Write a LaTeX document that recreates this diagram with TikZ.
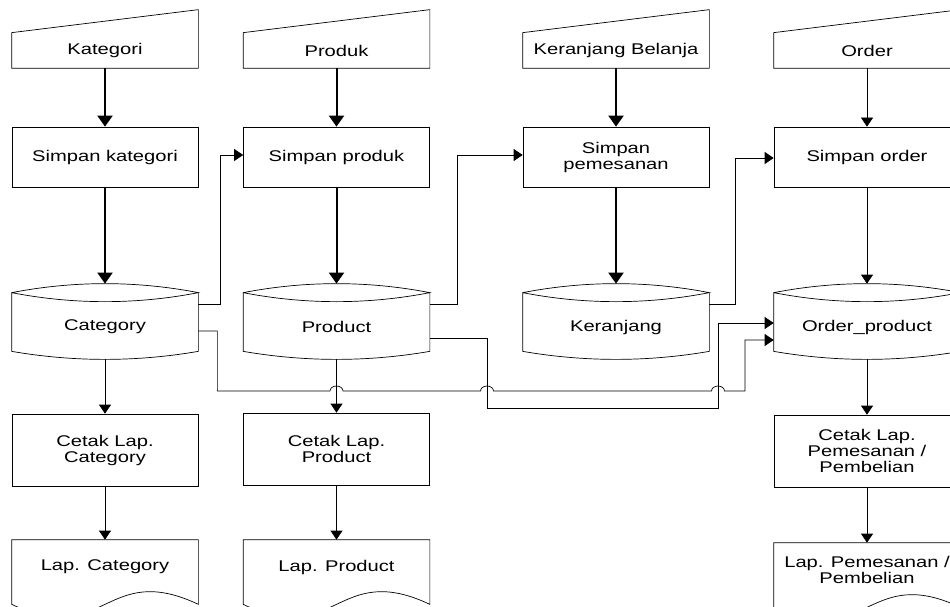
\documentclass[tikz,border=0pt]{standalone}
\usepackage{fontspec}
\setmainfont{Liberation Sans}[FakeStretch=1.3]
\usetikzlibrary{arrows.meta}
\newcommand{\boxfont}{\fontsize{15.5}{16}\selectfont}
\tikzset{
  inbox/.style={minimum width=186pt, minimum height=35pt, inner sep=0pt, font=\boxfont},
  procbox/.style={draw, minimum width=186pt, minimum height=60pt, align=center, font=\boxfont},
  cetakbox/.style={procbox, minimum height=72pt},
  dbbox/.style={minimum width=186pt, minimum height=68pt, inner sep=0pt, font=\boxfont},
  docbox/.style={minimum width=186pt, minimum height=54pt, inner sep=0pt, align=center, font=\boxfont},
  flow/.style={-{Triangle[length=9pt,width=12pt]}},
  boldflow/.style={line width=2pt, -{Triangle[length=11pt,width=15pt]}},
}

\begin{document}
\begin{tikzpicture}[x=1pt, y=-1pt, line width=0.7pt]
\useasboundingbox (0,0) rectangle (950,607);

\node[inbox] (kat) at (105,50.5) {Kategori};
\node[inbox] (prk) at (336.5,50.5) {Produk};
\node[inbox] (krb) at (616,50.5) {Keranjang Belanja};
\node[inbox] (ord) at (867,50.5) {Order};

\node[procbox] (simkat) at (105,157) {Simpan kategori};
\node[procbox] (simprod) at (336.5,157) {Simpan produk};
\node[procbox] (simpes) at (616,157) {Simpan\\pemesanan};
\node[procbox] (simord) at (867,157) {Simpan order};

\node[dbbox] (cat) at (105,327) {Category};
\node[dbbox] (prod) at (336.5,327) {Product};
\node[dbbox] (ker) at (616,327) {Keranjang};
\node[dbbox] (ordp) at (867,327) {Order\_product};

\node[cetakbox] (cetcat) at (105,450) {Cetak Lap.\\Category};
\node[cetakbox] (cetprod) at (336.5,449) {Cetak Lap.\\Product};
\node[cetakbox] (cetord) at (867,451) {Cetak Lap.\\Pemesanan /\\Pembelian};

\node[docbox] (lapcat) at (105,567) {Lap. Category};
\node[docbox] (lapprod) at (336.5,567) {Lap. Product};
\node[docbox] (lapord) at (867,570) {Lap. Pemesanan /\\Pembelian};

\foreach \n in {kat,prk,krb,ord}
  \draw (\n.south west) -- (\n.north west) -- ([yshift=23pt]\n.north east) -- (\n.south east) -- cycle;
\foreach \n in {cat,prod,ker,ordp}
  \draw (\n.north west) .. controls +(62,-12) and +(-62,-12) .. (\n.north east)
    .. controls +(-62,12) and +(62,12) .. (\n.north west)
    -- ([yshift=10pt]\n.south west) .. controls +(62,10.7) and +(-62,10.7) .. ([yshift=10pt]\n.south east)
    -- (\n.north east);
\foreach \n in {lapcat,lapprod,lapord}
  \draw (\n.north west) -- ([yshift=-10pt]\n.south west) .. controls +(93,44) and +(-93,-44) .. ([yshift=-10pt]\n.south east) -- (\n.north east) -- cycle;

\draw[boldflow] (kat) -- (simkat);
\draw[boldflow] (prk) -- (simprod);
\draw[boldflow] (krb) -- (simpes);
\draw[flow] (ord) -- (simord);
\draw[boldflow] (simkat) -- ([yshift=9pt]cat.north);
\draw[boldflow] (simprod) -- ([yshift=9pt]prod.north);
\draw[boldflow] (simpes) -- ([yshift=9pt]ker.north);
\draw[flow] (simord) -- ([yshift=9pt]ordp.north);

\draw[flow] ([yshift=2pt]cat.south) -- (cetcat);
\draw[flow] ([yshift=2pt]prod.south) -- (cetprod);
\draw[flow] ([yshift=2pt]ordp.south) -- (cetord);
\draw[flow] (cetcat) -- (lapcat.north);
\draw[flow] (cetprod) -- (lapprod.north);
\draw[flow] (cetord) -- (lapord.north);

\draw[flow] ([yshift=23pt]cat.east) -- ++(22,0) |- ([yshift=2pt]simprod.west);
\draw[flow] ([yshift=23pt]prod.east) -- ++(27,0) |- ([yshift=2pt]simpes.west);
\draw[flow] ([yshift=23pt]ker.east) -- ++(26,0) |- ([yshift=-1pt]simord.west);

\draw[flow] ([yshift=-4pt]cat.east) -- ++(19,0) -- ++(0,60) -- (330,391)
  arc[start angle=180, end angle=0, x radius=6.5pt, y radius=5pt] -- (480.5,391)
  arc[start angle=180, end angle=0, x radius=6.5pt, y radius=5pt] -- (711.5,391)
  arc[start angle=180, end angle=0, x radius=6.5pt, y radius=5pt] -- (745,391)
  |- ([yshift=-13pt]ordp.west);
\draw[flow] ([yshift=-11pt]prod.east) -| (487,408) -- (718,408) |- ([yshift=4pt]ordp.west);
\end{tikzpicture}
\end{document}
